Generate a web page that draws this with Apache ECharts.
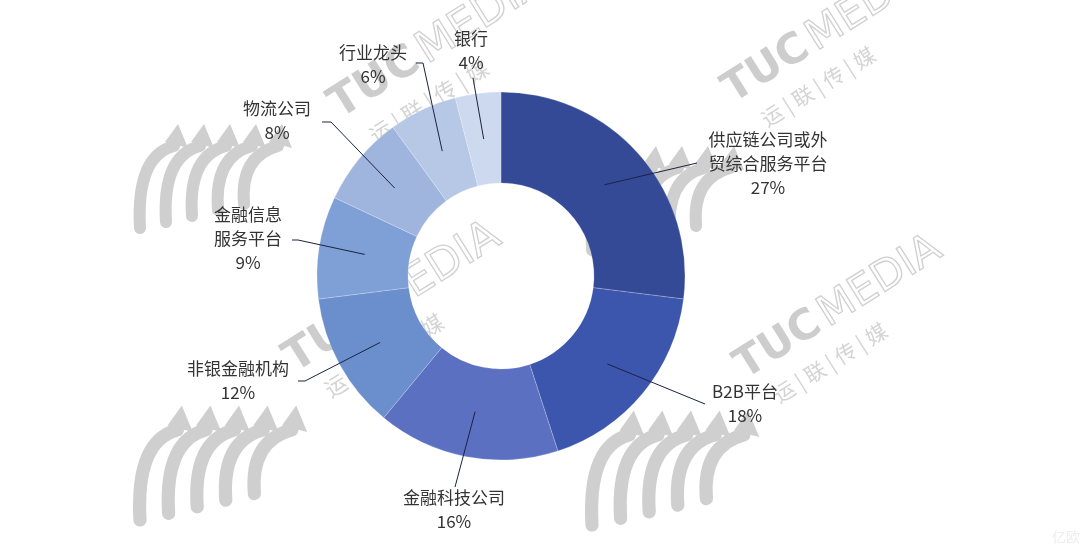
<!DOCTYPE html>
<html>
<head>
<meta charset="utf-8">
<script src="https://cdn.jsdelivr.net/npm/echarts@6/dist/echarts.min.js"></script>
<style>
  html, body { margin: 0; padding: 0; background: #ffffff; }
  #chart { width: 1080px; height: 556px; }
</style>
</head>
<body>
<div id="chart"></div>
<script>
// Share of institutions by type (percent)
const categories = [
  '供应链公司或外\n贸综合服务平台',
  'B2B平台',
  '金融科技公司',
  '非银金融机构',
  '金融信息\n服务平台',
  '物流公司',
  '行业龙头',
  '银行'
];
const shares = [27, 18, 16, 12, 9, 8, 6, 4];
const sliceColors = ['#344a96', '#3d56ad', '#5b70c1', '#6b8fcc', '#7fa0d6', '#a0b5de', '#b6c8e6', '#cdd9ef'];

// Where each label sits and where its leader line meets it
const labelSpots = [
  { x: 768, y: 164, align: 'center', end: [697, 163] },
  { x: 745, y: 404, align: 'center', end: [705, 404] },
  { x: 454, y: 510, align: 'center', end: [455, 487] },
  { x: 238, y: 381, align: 'center', end: [298, 381], elbow: [305, 381] },
  { x: 248, y: 239, align: 'center', end: [292, 240], elbow: [298, 240] },
  { x: 277, y: 121, align: 'center', end: [322, 122], elbow: [331, 122] },
  { x: 373, y: 65,  align: 'center', end: [416, 63],  elbow: [423, 63] },
  { x: 471, y: 51,  align: 'center', end: [473, 78] }
];

const center = [501, 276];
const labelFont = '"Noto Sans CJK SC", "Noto Sans", sans-serif';

const pieData = categories.map((name, i) => ({
  name: name,
  value: shares[i],
  itemStyle: { color: sliceColors[i] }
}));

const anchorData = categories.map((name, i) => ({ name: name, value: shares[i] }));

// Decorative watermark: brand text
function mark(x, y, size) {
  const rot = 32 * Math.PI / 180;
  return [
    {
      type: 'text', x: x, y: y, rotation: rot, z: -10, silent: true,
      style: {
        text: 'TUC', fill: '#cdcdcd', font: 'bold ' + size + 'px "DejaVu Sans", sans-serif',
        textVerticalAlign: 'bottom'
      }
    },
    {
      type: 'text',
      x: x + Math.cos(rot) * size * 2.35, y: y - Math.sin(rot) * size * 2.35,
      rotation: rot, z: -10, silent: true,
      style: {
        text: 'MEDIA', fill: 'none', stroke: '#d0d0d0', lineWidth: 1.3,
        font: size + 'px "DejaVu Sans", sans-serif', textVerticalAlign: 'bottom'
      }
    },
    {
      type: 'text',
      x: x + Math.cos(rot) * size * 0.4 + Math.sin(rot) * size * 0.25,
      y: y - Math.sin(rot) * size * 0.4 + Math.cos(rot) * size * 0.25,
      rotation: rot, z: -10, silent: true,
      style: {
        text: '运 | 联 | 传 | 媒', fill: '#d4d4d4',
        font: Math.round(size * 0.5) + 'px "Noto Sans CJK SC", sans-serif',
        textVerticalAlign: 'top'
      }
    }
  ];
}

// Decorative watermark: a fan of rising arrows
function arrowFan(bx, by, s) {
  const out = [];
  for (let i = 0; i < 5; i++) {
    const x0 = bx + i * 26 * s;
    const y0 = by - i * 6 * s;
    const tipX = x0 + 34 * s;
    const tipY = y0 - (92 - i * 6) * s;
    out.push({
      type: 'bezierCurve', z: -11, silent: true,
      shape: { x1: x0, y1: y0, cpx1: x0 - 4 * s, cpy1: tipY + 20 * s, x2: tipX, y2: tipY + 10 * s },
      style: { stroke: '#cfcfcf', lineWidth: 12 * s, fill: 'none', lineCap: 'round' }
    });
    out.push({
      type: 'polygon', z: -11, silent: true,
      shape: {
        points: [
          [tipX + 4 * s, tipY - 12 * s],
          [tipX + 14 * s, tipY + 12 * s],
          [tipX - 9 * s, tipY + 6 * s]
        ]
      },
      style: { fill: '#cfcfcf' }
    });
  }
  return out;
}

const chart = echarts.init(document.getElementById('chart'), null, { renderer: 'canvas' });

chart.setOption({
  backgroundColor: '#ffffff',
  animation: false,
  graphic: [].concat(
    arrowFan(140, 228, 1.0),
    arrowFan(140, 520, 1.1),
    arrowFan(592, 250, 1.0),
    arrowFan(592, 525, 1.1),
    mark(345, 128, 44),
    mark(738, 112, 42),
    mark(300, 382, 44),
    mark(750, 388, 42),
    [{
      type: 'text', x: 1052, y: 530, z: -10, silent: true,
      style: { text: '亿欧', fill: '#eeeeee', font: '14px "Noto Sans CJK SC", sans-serif' }
    }]
  ),
  series: [
    {
      type: 'pie',
      center: center,
      radius: [93, 184],
      startAngle: 90,
      clockwise: true,
      silent: true,
      label: { show: false },
      labelLine: { show: false },
      itemStyle: { borderColor: 'rgba(255,255,255,0.35)', borderWidth: 0.6 },
      data: pieData,
      z: 2
    },
    {
      // Transparent ring whose rim gives the leader-line starting points
      type: 'pie',
      center: center,
      radius: [0, 138],
      startAngle: 90,
      clockwise: true,
      silent: true,
      itemStyle: { color: 'rgba(0,0,0,0)' },
      label: {
        show: true,
        position: 'outside',
        formatter: p => p.name + '\n' + p.value + '%',
        color: '#333333',
        fontSize: 17,
        lineHeight: 24,
        fontFamily: labelFont
      },
      labelLine: {
        show: true,
        length: 20,
        length2: 10,
        lineStyle: { color: '#1c2240', width: 1 }
      },
      labelLayout: function (params) {
        const spot = labelSpots[params.dataIndex];
        const start = params.labelLinePoints ? params.labelLinePoints[0] : spot.end;
        const pts = spot.elbow ? [start, spot.elbow, spot.end] : [start, spot.end, spot.end];
        return {
          x: spot.x,
          y: spot.y,
          align: spot.align,
          verticalAlign: 'middle',
          labelLinePoints: pts
        };
      },
      data: anchorData,
      z: 3
    }
  ]
});
</script>
</body>
</html>
